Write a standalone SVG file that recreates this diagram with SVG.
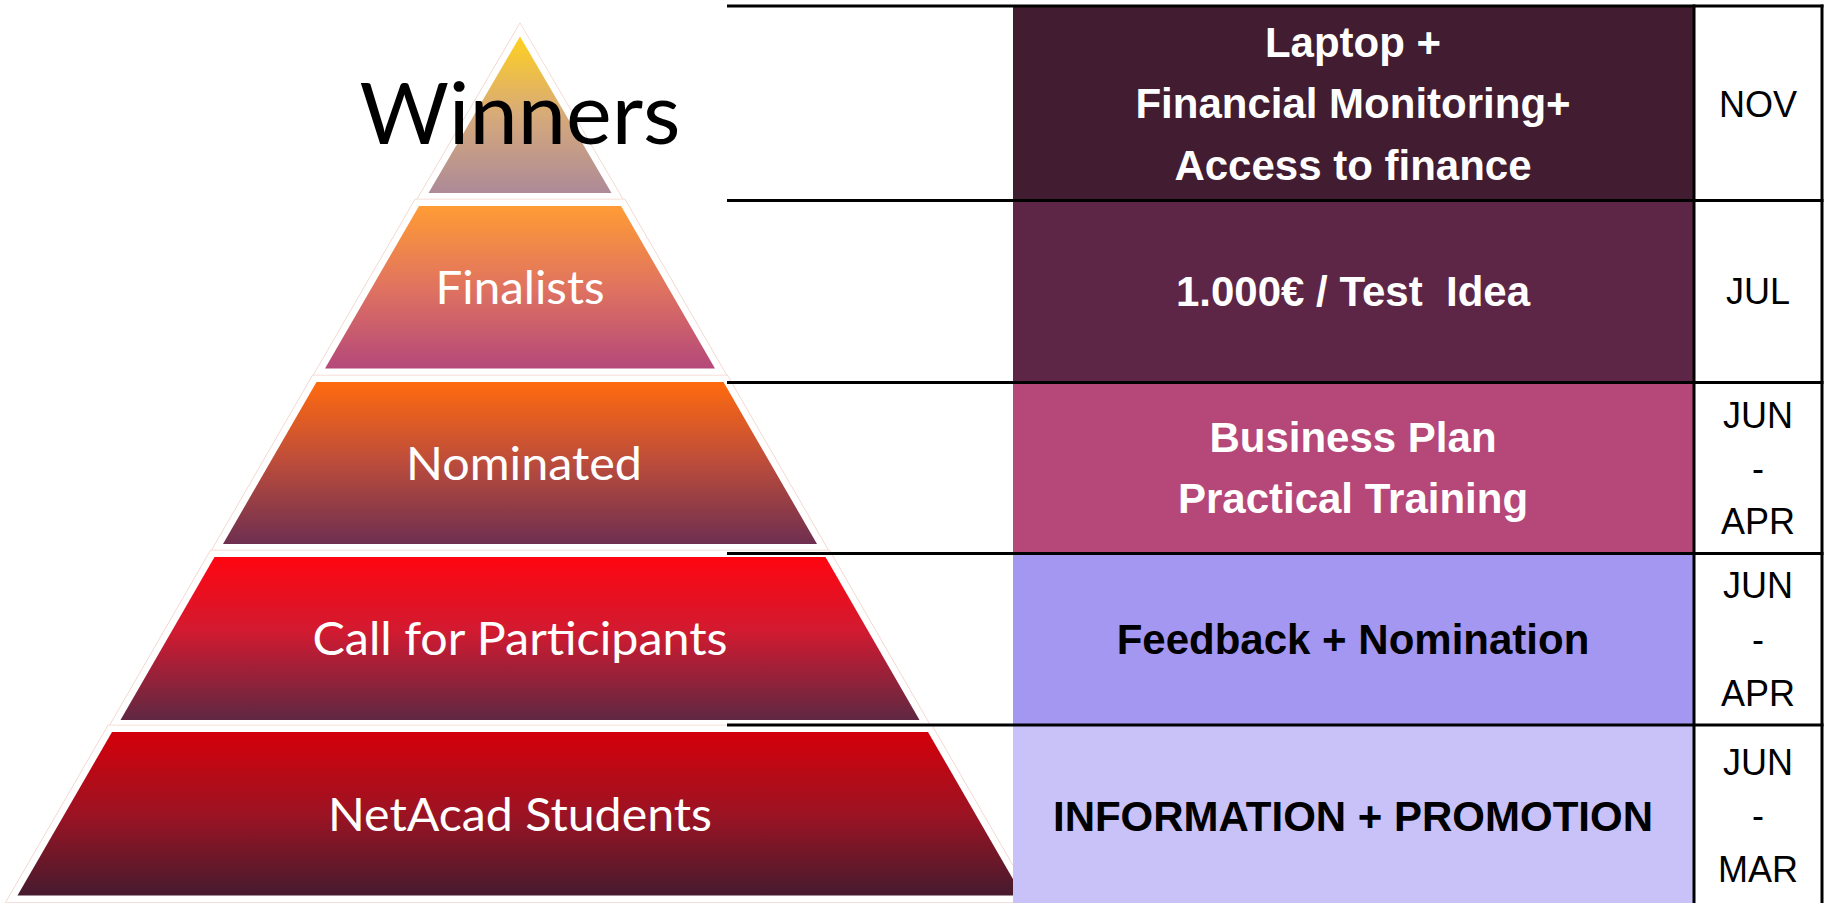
<svg xmlns="http://www.w3.org/2000/svg" width="1828" height="903" viewBox="0 0 1828 903">
  <style>
    .halo { fill: none; stroke: #f1d3cb; stroke-width: 14.5; stroke-linejoin: miter; }
    .tier { stroke: #ffffff; stroke-width: 13; stroke-linejoin: miter; paint-order: stroke; }
    .lbl { font-family: Lato, "Open Sans", sans-serif; font-size: 46px; fill: #ffffff; text-anchor: middle; }
    .big { font-family: Lato, "Open Sans", sans-serif; font-size: 85px; fill: #000000; text-anchor: middle; }
    .cell { font-family: "Liberation Sans", Arial, sans-serif; font-weight: bold; font-size: 42px; text-anchor: middle; }
    .light { fill: #ffffff; }
    .dark { fill: #000000; }
    .month { font-family: "Liberation Sans", Arial, sans-serif; font-size: 36px; fill: #000000; text-anchor: middle; }
    .rule { stroke: #000000; stroke-width: 3; fill: none; }
  </style>
  <defs>
    <linearGradient id="gWin" x1="0" y1="0" x2="0" y2="1">
      <stop offset="0" stop-color="#ffd01e"/>
      <stop offset="0.5" stop-color="#d7aa7a"/>
      <stop offset="1" stop-color="#ad8a98"/>
    </linearGradient>
    <linearGradient id="gFin" x1="0" y1="0" x2="0" y2="1">
      <stop offset="0" stop-color="#ff9c35"/>
      <stop offset="0.5" stop-color="#e0735f"/>
      <stop offset="1" stop-color="#b4487a"/>
    </linearGradient>
    <linearGradient id="gNom" x1="0" y1="0" x2="0" y2="1">
      <stop offset="0" stop-color="#ff6a0e"/>
      <stop offset="0.5" stop-color="#bb4c3c"/>
      <stop offset="1" stop-color="#6e2f50"/>
    </linearGradient>
    <linearGradient id="gCall" x1="0" y1="0" x2="0" y2="1">
      <stop offset="0" stop-color="#ff0510"/>
      <stop offset="0.45" stop-color="#d21a30"/>
      <stop offset="1" stop-color="#5f2842"/>
    </linearGradient>
    <linearGradient id="gNet" x1="0" y1="0" x2="0" y2="1">
      <stop offset="0" stop-color="#d4000a"/>
      <stop offset="0.5" stop-color="#9c1323"/>
      <stop offset="1" stop-color="#461b2e"/>
    </linearGradient>
  </defs>

  <rect x="0" y="0" width="1828" height="903" fill="#ffffff"/>

  <!-- pyramid tiers, top to bottom -->
  <g id="tier-winners">
    <polygon class="halo" points="520,36.5 428.5,193 611.5,193"/>
    <polygon class="tier" fill="url(#gWin)" points="520,36.5 428.5,193 611.5,193"/>
  </g>
  <g id="tier-finalists">
    <polygon class="halo" points="419,206 621,206 715,368.5 325,368.5"/>
    <polygon class="tier" fill="url(#gFin)" points="419,206 621,206 715,368.5 325,368.5"/>
    <text class="lbl" x="520" y="304" textLength="169" lengthAdjust="spacingAndGlyphs">Finalists</text>
  </g>
  <g id="tier-nominated">
    <polygon class="halo" points="316.5,382 723.5,382 817,544 223,544"/>
    <polygon class="tier" fill="url(#gNom)" points="316.5,382 723.5,382 817,544 223,544"/>
    <text class="lbl" x="524" y="480" textLength="236" lengthAdjust="spacingAndGlyphs">Nominated</text>
  </g>
  <g id="tier-call">
    <polygon class="halo" points="214.5,557 825.5,557 919.5,720 120.5,720"/>
    <polygon class="tier" fill="url(#gCall)" points="214.5,557 825.5,557 919.5,720 120.5,720"/>
    <text class="lbl" x="520" y="655" textLength="415" lengthAdjust="spacingAndGlyphs">Call for Participants</text>
  </g>
  <g id="tier-netacad">
    <polygon class="halo" points="112,732 928,732 1022.5,895.5 17.5,895.5"/>
    <polygon class="tier" fill="url(#gNet)" points="112,732 928,732 1022.5,895.5 17.5,895.5"/>
    <text class="lbl" x="520" y="831" textLength="384" lengthAdjust="spacingAndGlyphs">NetAcad Students</text>
  </g>
  <g id="title-winners">
    <text class="big" x="520" y="144" textLength="321" lengthAdjust="spacingAndGlyphs">Winners</text>
  </g>

  <!-- schedule table rows -->
  <g id="row-winners">
    <rect x="1013" y="6" width="680" height="194" fill="#421c30"/>
    <text class="cell light" x="1353" y="57">Laptop +</text>
    <text class="cell light" x="1353" y="118">Financial Monitoring+</text>
    <text class="cell light" x="1353" y="180">Access to finance</text>
    <text class="month" x="1758" y="117">NOV</text>
  </g>
  <g id="row-finalists">
    <rect x="1013" y="200" width="680" height="182" fill="#5e2646"/>
    <text class="cell light" x="1353" y="306" xml:space="preserve" style="white-space:pre">1.000€ / Test  Idea</text>
    <text class="month" x="1758" y="304">JUL</text>
  </g>
  <g id="row-nominated">
    <rect x="1013" y="382" width="680" height="171" fill="#b64779"/>
    <text class="cell light" x="1353" y="452">Business Plan</text>
    <text class="cell light" x="1353" y="513">Practical Training</text>
    <text class="month" x="1758" y="428">JUN</text>
    <text class="month" x="1758" y="481">-</text>
    <text class="month" x="1758" y="534">APR</text>
  </g>
  <g id="row-call">
    <rect x="1013" y="553" width="680" height="172" fill="#a397f2"/>
    <text class="cell dark" x="1353" y="654">Feedback + Nomination</text>
    <text class="month" x="1758" y="598">JUN</text>
    <text class="month" x="1758" y="652">-</text>
    <text class="month" x="1758" y="706">APR</text>
  </g>
  <g id="row-netacad">
    <rect x="1013" y="725" width="680" height="178" fill="#c8c2f8"/>
    <text class="cell dark" x="1353" y="831">INFORMATION + PROMOTION</text>
    <text class="month" x="1758" y="775">JUN</text>
    <text class="month" x="1758" y="828">-</text>
    <text class="month" x="1758" y="882">MAR</text>
  </g>

  <!-- table rules -->
  <g id="rules">
    <line class="rule" x1="727" y1="6" x2="1823.5" y2="6"/>
    <line class="rule" x1="727" y1="200.5" x2="1823.5" y2="200.5"/>
    <line class="rule" x1="727" y1="382.5" x2="1823.5" y2="382.5"/>
    <line class="rule" x1="727" y1="553.5" x2="1823.5" y2="553.5"/>
    <line class="rule" x1="727" y1="725" x2="1823.5" y2="725"/>
    <line class="rule" x1="1694" y1="4.5" x2="1694" y2="903"/>
    <line class="rule" x1="1822" y1="4.5" x2="1822" y2="903"/>
  </g>
</svg>
